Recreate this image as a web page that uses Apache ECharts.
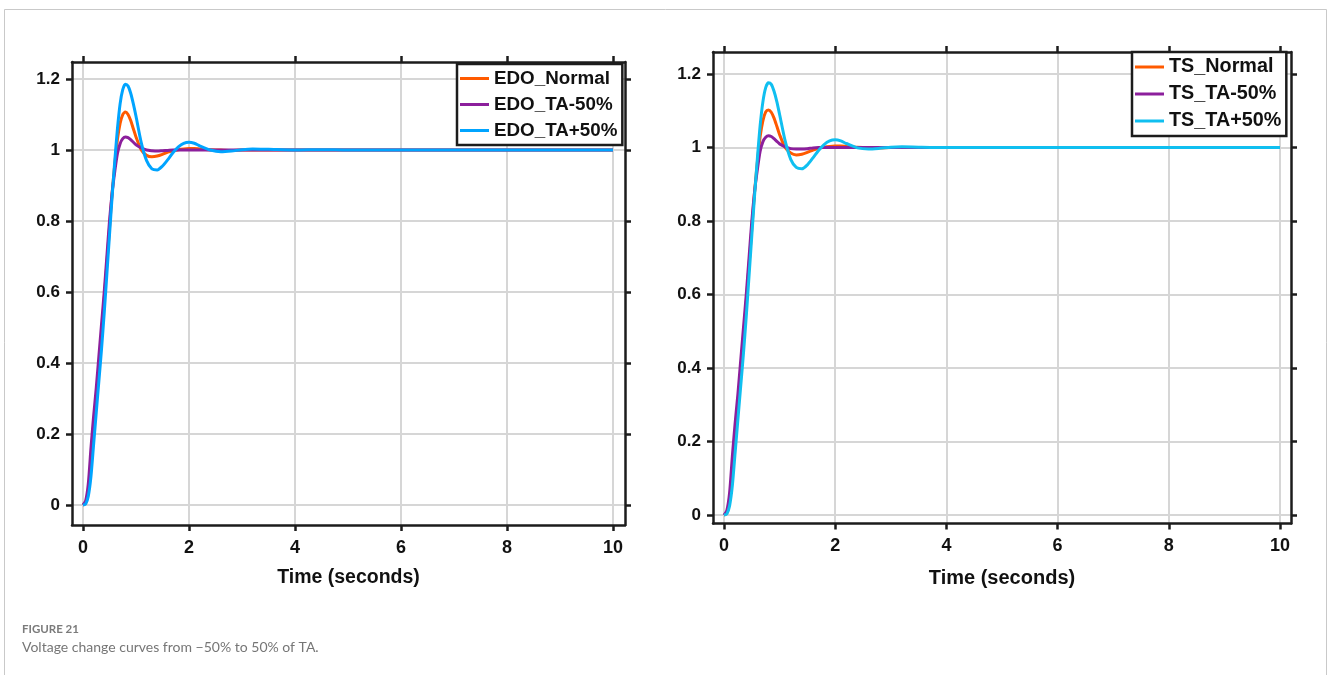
<!DOCTYPE html>
<html>
<head>
<meta charset="utf-8">
<script src="https://cdn.jsdelivr.net/npm/echarts@6/dist/echarts.min.js"></script>
<style>
html,body{margin:0;padding:0;background:#fff;}
#chart{width:1328px;height:675px;}
</style>
</head>
<body>
<div id="chart"></div>
<script>
// ---- data ----
const timeSec = [0, 0.05, 0.1, 0.15, 0.2, 0.25, 0.3, 0.35, 0.4, 0.45, 0.5, 0.55, 0.6, 0.65, 0.7, 0.75, 0.8, 0.85, 0.9, 0.95, 1.0, 1.1, 1.2, 1.3, 1.4, 1.5, 1.6, 1.7, 1.8, 1.9, 2.0, 2.1, 2.2, 2.4, 2.6, 2.8, 3.0, 3.2, 3.5, 4.0, 4.5, 5.0, 6.0, 7.0, 8.0, 9.0, 10.0];

const edoNormal = [0, 0.005, 0.04, 0.11, 0.2, 0.29, 0.38, 0.48, 0.58, 0.68, 0.78, 0.88, 0.96, 1.03, 1.075, 1.1, 1.107, 1.1, 1.083, 1.06, 1.037, 1.0, 0.985, 0.981, 0.983, 0.988, 0.994, 0.998, 1.001, 1.003, 1.004, 1.004, 1.003, 1.001, 1.0, 0.999, 1.0, 1.0, 1.0, 1.0, 1.0, 1.0, 1.0, 1.0, 1.0, 1.0, 1.0];
const edoMinus50 = [0, 0.012, 0.06, 0.16, 0.25, 0.33, 0.42, 0.51, 0.6, 0.7, 0.8, 0.88, 0.94, 0.99, 1.018, 1.032, 1.037, 1.035, 1.029, 1.022, 1.015, 1.006, 1.0, 0.998, 0.997, 0.998, 0.999, 1.0, 1.0, 1.0, 1.0, 1.0, 1.0, 1.0, 1.0, 1.0, 1.0, 1.0, 1.0, 1.0, 1.0, 1.0, 1.0, 1.0, 1.0, 1.0, 1.0];
const edoPlus50 = [0, 0.003, 0.025, 0.08, 0.17, 0.26, 0.35, 0.44, 0.54, 0.65, 0.76, 0.87, 0.97, 1.06, 1.13, 1.17, 1.185, 1.18, 1.16, 1.13, 1.095, 1.02, 0.97, 0.947, 0.944, 0.955, 0.973, 0.993, 1.009, 1.019, 1.022, 1.019, 1.012, 1.0, 0.995, 0.997, 1.001, 1.003, 1.002, 1.0, 1.001, 1.0, 1.0, 1.0, 1.0, 1.0, 1.0];

const tsNormal = [0, 0.005, 0.04, 0.11, 0.2, 0.29, 0.38, 0.48, 0.58, 0.68, 0.78, 0.88, 0.96, 1.03, 1.073, 1.097, 1.102, 1.096, 1.08, 1.058, 1.035, 1.0, 0.985, 0.98, 0.982, 0.987, 0.993, 0.998, 1.001, 1.003, 1.004, 1.004, 1.003, 1.001, 1.0, 0.999, 1.0, 1.0, 1.0, 1.0, 1.0, 1.0, 1.0, 1.0, 1.0, 1.0, 1.0];
const tsMinus50 = [0, 0.012, 0.06, 0.16, 0.25, 0.33, 0.42, 0.51, 0.6, 0.7, 0.8, 0.88, 0.94, 0.99, 1.016, 1.028, 1.032, 1.03, 1.024, 1.017, 1.01, 1.002, 0.997, 0.996, 0.996, 0.997, 0.999, 1.0, 1.0, 1.0, 1.0, 1.0, 1.0, 1.0, 1.0, 1.0, 1.0, 1.0, 1.0, 1.0, 1.0, 1.0, 1.0, 1.0, 1.0, 1.0, 1.0];
const tsPlus50 = [0, 0.003, 0.025, 0.08, 0.17, 0.26, 0.35, 0.44, 0.54, 0.65, 0.76, 0.87, 0.97, 1.06, 1.125, 1.163, 1.176, 1.172, 1.153, 1.125, 1.09, 1.018, 0.968, 0.946, 0.942, 0.953, 0.972, 0.992, 1.008, 1.018, 1.021, 1.018, 1.011, 0.999, 0.996, 0.998, 1.001, 1.002, 1.001, 1.0, 1.0, 1.0, 1.0, 1.0, 1.0, 1.0, 1.0];

const xTicks = [0, 2, 4, 6, 8, 10];
const yTicks = [0, 0.2, 0.4, 0.6, 0.8, 1, 1.2];

const leftNames = ['EDO_Normal', 'EDO_TA-50%', 'EDO_TA+50%'];
const rightNames = ['TS_Normal', 'TS_TA-50%', 'TS_TA+50%'];
const xName = 'Time (seconds)';
const figLabel = 'FIGURE 21';
const figCaption = 'Voltage change curves from \u221250% to 50% of TA.';

// ---- styling ----
const FONT = '"Liberation Sans", Arial, sans-serif';
const CAPFONT = 'Lato, "Open Sans", "Noto Sans", sans-serif';
const AX = '#1c1c1c';
const colorsLeft = ['#ff5a00', '#8c1f9c', '#00a4ff'];
const colorsRight = ['#ff5a00', '#8c1f9c', '#10bff0'];

function pairs(xs, ys) { return xs.map((x, i) => [x, ys[i]]); }

function xAxes(gridIndex, min, max, nameGap, fs) {
  return [
    {
      gridIndex, type: 'value', position: 'bottom', min, max,
      name: xName, nameLocation: 'middle', nameGap,
      nameTextStyle: { fontFamily: FONT, fontWeight: 'bold', fontSize: fs, color: '#111' },
      axisLine: { show: true, onZero: false, lineStyle: { color: AX, width: 2.5 } },
      axisTick: { show: true, inside: false, length: 6, customValues: xTicks, lineStyle: { color: AX, width: 2.5 } },
      axisLabel: { show: true, margin: 14, customValues: xTicks, fontFamily: FONT, fontWeight: 'bold', fontSize: 18, color: '#111' },
      splitLine: { show: true, lineStyle: { color: '#d6d6d6', width: 2 } }
    },
    {
      gridIndex, type: 'value', position: 'top', min, max,
      axisLine: { show: true, onZero: false, lineStyle: { color: AX, width: 2.5 } },
      axisTick: { show: true, inside: false, length: 6, customValues: xTicks, lineStyle: { color: AX, width: 2.5 } },
      axisLabel: { show: false },
      splitLine: { show: false }
    }
  ];
}
function yAxes(gridIndex, min, max) {
  return [
    {
      gridIndex, type: 'value', position: 'left', min, max,
      axisLine: { show: true, onZero: false, lineStyle: { color: AX, width: 2.5 } },
      axisTick: { show: true, inside: false, length: 6, customValues: yTicks, lineStyle: { color: AX, width: 2.5 } },
      axisLabel: { show: true, margin: 12, customValues: yTicks, fontFamily: FONT, fontWeight: 'bold', fontSize: 17, color: '#111',
        formatter: v => String(Math.round(v * 10) / 10) },
      splitLine: { show: true, lineStyle: { color: '#d6d6d6', width: 2 } }
    },
    {
      gridIndex, type: 'value', position: 'right', min, max,
      axisLine: { show: true, onZero: false, lineStyle: { color: AX, width: 2.5 } },
      axisTick: { show: true, inside: false, length: 6, customValues: yTicks, lineStyle: { color: AX, width: 2.5 } },
      axisLabel: { show: false },
      splitLine: { show: false }
    }
  ];
}

function lineSeries(name, xi, yi, data, color) {
  return {
    name, type: 'line', xAxisIndex: xi, yAxisIndex: yi, data,
    showSymbol: false, symbol: 'none', smooth: 0.25,
    lineStyle: { color, width: 3 }, itemStyle: { color },
    z: 3
  };
}

const leftData = [edoNormal, edoMinus50, edoPlus50];
const rightData = [tsNormal, tsMinus50, tsPlus50];

const series = [];
// draw order: orange, purple, then blue on top
[0, 1, 2].forEach(i => series.push(lineSeries(leftNames[i], 0, 0, pairs(timeSec, leftData[i]), colorsLeft[i])));
[0, 1, 2].forEach(i => series.push(lineSeries(rightNames[i], 2, 2, pairs(timeSec, rightData[i]), colorsRight[i])));

function legend(names, colors, left, top, fs) {
  return {
    show: true, orient: 'vertical', left, top,
    data: names.map((n, i) => ({ name: n, icon: 'rect', itemStyle: { color: colors[i] } })),
    itemWidth: 29, itemHeight: 3, itemGap: 7,
    padding: [5, 5, 5, 3],
    backgroundColor: '#fff', borderColor: AX, borderWidth: 2.5,
    textStyle: { fontFamily: FONT, fontWeight: 'bold', fontSize: fs, color: '#111' },
    selectedMode: false
  };
}

const option = {
  animation: false,
  backgroundColor: '#fff',
  title: [
    { text: figLabel, left: 17, top: 618, textStyle: { fontFamily: CAPFONT, fontSize: 11.5, fontWeight: 'bold', color: '#7b7b7b' } },
    { text: figCaption, left: 17, top: 635, textStyle: { fontFamily: CAPFONT, fontSize: 14, fontWeight: 'normal', color: '#767676' } }
  ],
  graphic: [
    { type: 'rect', shape: { x: 4.5, y: 9.5, width: 1322, height: 700 }, style: { fill: 'none', stroke: '#c9c9c9', lineWidth: 1 }, silent: true, z: -10 }
  ],
  grid: [
    { left: 72, top: 62, width: 553, height: 463, containLabel: false },
    { left: 713, top: 52, width: 578, height: 471.5, containLabel: false }
  ],
  xAxis: [
    ...xAxes(0, -0.2075, 10.226, 43, 19.5),
    ...xAxes(1, -0.198, 10.198, 45, 20)
  ],
  yAxis: [
    ...yAxes(0, -0.0563, 1.248),
    ...yAxes(1, -0.023, 1.26)
  ],
  legend: [
    legend(leftNames, colorsLeft, 457, 64, 18.8),
    legend(rightNames, colorsRight, 1132, 52, 19.8)
  ],
  series
};

const chart = echarts.init(document.getElementById('chart'), null, { renderer: 'canvas' });
chart.setOption(option);
</script>
</body>
</html>
